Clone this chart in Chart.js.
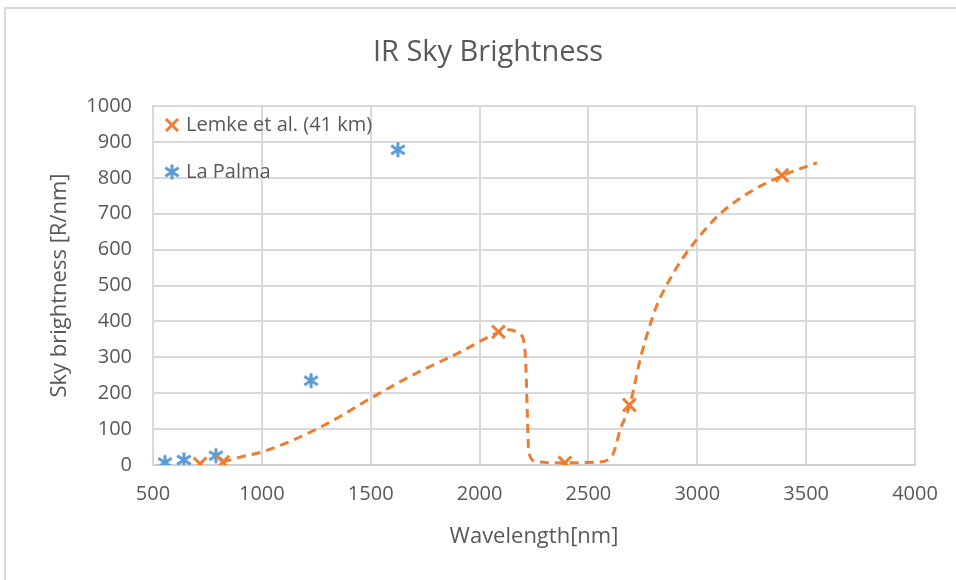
<!DOCTYPE html>
<html>
<head>
<meta charset="utf-8">
<script src="https://cdn.jsdelivr.net/npm/chart.js@4/dist/chart.umd.min.js"></script>
<style>
  html, body { margin: 0; padding: 0; background: #fff; }
  #wrap { width: 956px; height: 580px; }
</style>
</head>
<body>
<div id="wrap"><canvas id="chart"></canvas></div>
<script>
// Lemke et al. (41 km) markers
const lemkeX = [716, 821, 2087, 2392, 2688, 3389];
const lemkeY = [3, 8, 371, 6, 167, 807];

// La Palma markers
const palmaX = [555, 642, 789, 1226, 1625];
const palmaY = [7, 14, 26, 235, 878];

// dashed curve through the Lemke points
const curveX = [820, 900, 1000, 1175, 1330, 1500, 1710, 1900, 2090, 2140, 2178, 2203, 2213, 2219, 2226, 2262, 2390, 2540, 2605, 2650, 2690, 2740, 2785, 2820, 2865, 2930, 3000, 3100, 3230, 3390, 3550];
const curveY = [8, 22, 36, 78, 125, 186, 256, 311, 370, 377, 367, 345, 270, 150, 35, 9, 6, 8, 22, 105, 167, 300, 394, 453, 508, 573, 630, 697, 756, 806, 842];

const xMin = 500, xMax = 4000, xStep = 500;
const yMin = 0, yMax = 1000, yStep = 100;
const chartTitle = 'IR Sky Brightness';

const orange = '#ED7D31';
const blue = '#5B9BD5';
const grey = '#595959';
const gridCol = '#d9d9d9';
const fontFam = '"Open Sans", "Noto Sans", sans-serif';

function pts(xs, ys) {
  return xs.map((x, i) => ({ x: x, y: ys[i] }));
}

// asterisk marker (vertical bar + X)
function asterisk(color, size) {
  const c = document.createElement('canvas');
  c.width = c.height = size;
  const g = c.getContext('2d');
  const m = size / 2, r = size / 2 - 1.5, d = r * 0.9;
  g.strokeStyle = color;
  g.lineWidth = 3;
  g.beginPath();
  g.moveTo(m, m - r); g.lineTo(m, m + r);
  g.moveTo(m - d, m - d * 0.62); g.lineTo(m + d, m + d * 0.62);
  g.moveTo(m + d, m - d * 0.62); g.lineTo(m - d, m + d * 0.62);
  g.stroke();
  return c;
}
const starImg = asterisk(blue, 18);

// frame + title
const framePlugin = {
  id: 'frame',
  beforeDraw(chart) {
    const ctx = chart.ctx;
    ctx.save();
    ctx.strokeStyle = gridCol;
    ctx.lineWidth = 2;
    ctx.strokeRect(5, 8, chart.width + 20, chart.height + 20);
    ctx.font = '29px ' + fontFam;
    ctx.fillStyle = grey;
    ctx.textAlign = 'center';
    ctx.textBaseline = 'middle';
    ctx.fillText(chartTitle, 488, 53);
    ctx.restore();
  }
};

// legend drawn inside the plot area, top left
const innerLegend = {
  id: 'innerLegend',
  afterDraw(chart) {
    const ctx = chart.ctx;
    const a = chart.chartArea;
    ctx.save();
    ctx.font = '20px ' + fontFam;
    ctx.fillStyle = grey;
    ctx.textBaseline = 'middle';
    ctx.textAlign = 'left';
    let x = a.left + 19, y = a.top + 19, r = 6;
    ctx.strokeStyle = orange;
    ctx.lineWidth = 3;
    ctx.beginPath();
    ctx.moveTo(x - r, y - r); ctx.lineTo(x + r, y + r);
    ctx.moveTo(x + r, y - r); ctx.lineTo(x - r, y + r);
    ctx.stroke();
    ctx.fillText(chart.data.datasets[0].label, x + 14, y);
    y = a.top + 66;
    ctx.drawImage(starImg, x - 9, y - 9);
    ctx.fillText(chart.data.datasets[1].label, x + 14, y);
    ctx.restore();
  }
};

const plain = v => String(v);

new Chart(document.getElementById('chart'), {
  type: 'scatter',
  data: {
    datasets: [
      {
        label: 'Lemke et al. (41 km)',
        data: pts(lemkeX, lemkeY),
        pointStyle: 'crossRot',
        pointRadius: 9,
        pointBorderWidth: 3,
        borderColor: orange,
        backgroundColor: orange,
        order: 1
      },
      {
        label: 'La Palma',
        data: pts(palmaX, palmaY),
        pointStyle: starImg,
        pointRadius: 9,
        borderColor: blue,
        backgroundColor: blue,
        order: 2
      },
      {
        label: 'curve',
        data: pts(curveX, curveY),
        showLine: true,
        pointRadius: 0,
        borderColor: orange,
        borderWidth: 3,
        borderDash: [9, 6],
        cubicInterpolationMode: 'monotone',
        order: 3
      }
    ]
  },
  options: {
    responsive: true,
    maintainAspectRatio: false,
    animation: false,
    layout: { padding: { left: 0, right: 41, top: 106, bottom: 0 } },
    plugins: {
      legend: { display: false },
      tooltip: { enabled: false },
      title: { display: false }
    },
    scales: {
      x: {
        type: 'linear',
        min: xMin, max: xMax,
        afterFit(s) { s.height = 115; },
        ticks: { stepSize: xStep, color: grey, padding: 17, font: { family: fontFam, size: 20 }, callback: plain },
        grid: { color: gridCol, lineWidth: 2, drawTicks: false },
        border: { color: '#d0d0d0', width: 2 },
        title: {
          display: true, text: 'Wavelength[nm]', color: grey,
          font: { family: fontFam, size: 22 }, padding: { top: 0, bottom: 30 }
        }
      },
      y: {
        min: yMin, max: yMax,
        afterFit(s) { s.width = 153; },
        ticks: { stepSize: yStep, color: grey, padding: 21, font: { family: fontFam, size: 20 }, callback: plain },
        grid: { color: gridCol, lineWidth: 2, drawTicks: false },
        border: { color: gridCol, width: 2 },
        title: {
          display: true, text: 'Sky brightness [R/nm]', color: grey,
          font: { family: fontFam, size: 22 }, padding: { top: 47, bottom: 0 }
        }
      }
    }
  },
  plugins: [framePlugin, innerLegend]
});
</script>
</body>
</html>
